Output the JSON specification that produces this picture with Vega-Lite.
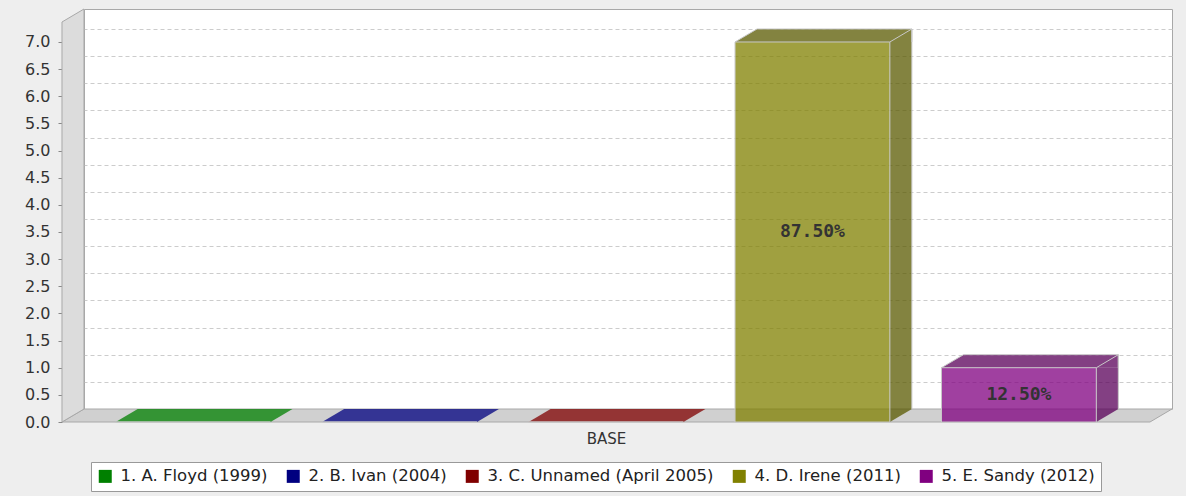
{
  "$schema": "https://vega.github.io/schema/vega-lite/v6.json",
  "width": 1088,
  "height": 400,
  "autosize": {"type": "none"},
  "padding": {"left": 84, "top": 9, "right": 14, "bottom": 87},
  "background": "#eeeeee",
  "config": {
    "view": {"fill": "white", "stroke": "#a8a8a8", "strokeWidth": 1},
    "font": "DejaVu Sans"
  },
  "data": {
    "values": [
      {"category": "BASE", "series": "1. A. Floyd (1999)", "value": 0, "label": ""},
      {"category": "BASE", "series": "2. B. Ivan (2004)", "value": 0, "label": ""},
      {"category": "BASE", "series": "3. C. Unnamed (April 2005)", "value": 0, "label": ""},
      {"category": "BASE", "series": "4. D. Irene (2011)", "value": 7, "label": "87.50%"},
      {"category": "BASE", "series": "5. E. Sandy (2012)", "value": 1, "label": "12.50%"}
    ]
  },
  "encoding": {
    "x": {
      "field": "series",
      "type": "nominal",
      "sort": null,
      "scale": {"paddingInner": 0.25, "paddingOuter": 0.26},
      "axis": {
        "title": "BASE",
        "labels": false,
        "ticks": false,
        "domain": false,
        "offset": 13,
        "titleX": 522,
        "titleY": 16,
        "titleBaseline": "middle",
        "titleAlign": "center",
        "titleFont": "DejaVu Sans",
        "titleFontSize": 15,
        "titleFontWeight": "normal",
        "titleColor": "#333333"
      }
    },
    "y": {
      "field": "value",
      "type": "quantitative",
      "scale": {"domain": [0, 7.368], "nice": false, "zero": true},
      "axis": null
    }
  },
  "layer": [
    {
      "transform": [{"filter": "datum.series == '1. A. Floyd (1999)'"}],
      "mark": {"type": "point", "shape": "M -153.1 13 L -131.1 0 L 956.9 0 L 934.9 13 Z", "size": 4, "filled": true, "fill": "#d0d0d0", "stroke": "#a8a8a8", "strokeWidth": 1, "opacity": 1},
      "encoding": {"y": {"datum": 0, "type": "quantitative", "axis": null}}
    },
    {
      "transform": [{"filter": "datum.series == '1. A. Floyd (1999)'"}],
      "mark": {"type": "point", "shape": "M -153.1 -387 L -131.1 -400 L -131.1 0 L -153.1 13 Z", "size": 4, "filled": true, "fill": "#dcdcdc", "stroke": "#a8a8a8", "strokeWidth": 1, "opacity": 1},
      "encoding": {"y": {"datum": 0, "type": "quantitative", "axis": null}}
    },
    {
      "transform": [{"filter": "datum.value == 0"}],
      "mark": {"type": "point", "shape": "M -77.42 0 L 77.42 0 L 55.42 13 L -99.42 13 Z", "size": 4, "filled": true, "opacity": 1, "fillOpacity": 0.75, "strokeWidth": 0},
      "encoding": {
        "y": {"datum": 0, "type": "quantitative", "axis": null},
        "color": {
          "field": "series",
          "type": "nominal",
          "sort": null,
          "scale": {"range": ["#008000", "#000080", "#800000", "#808000", "#800080"]},
          "legend": {
            "orient": "none", "legendX": 7, "legendY": 453, "direction": "horizontal", "title": null,
            "symbolType": "square", "symbolSize": 169, "symbolStrokeWidth": 0, "symbolOpacity": 1,
            "labelFont": "DejaVu Sans", "labelFontSize": 16.5, "labelColor": "#222222", "labelLimit": 500,
            "padding": 6, "strokeColor": "#999999", "fillColor": "white",
            "columnPadding": 17, "labelOffset": 7
          }
        }
      }
    },
    {
      "transform": [{"filter": "datum.value > 0"}],
      "mark": {"type": "rule", "strokeWidth": 22, "strokeCap": "butt", "xOffset": 66.42, "yOffset": 13, "opacity": 1, "strokeOpacity": 0.75},
      "encoding": {
        "y": {
          "field": "value",
          "type": "quantitative",
          "axis": {
            "orient": "right",
            "values": [0, 0.5, 1, 1.5, 2, 2.5, 3, 3.5, 4, 4.5, 5, 5.5, 6, 6.5, 7],
            "grid": true, "gridDash": [4, 3], "gridColor": "#cccccc", "gridWidth": 1,
            "labels": false, "ticks": false, "domain": false, "title": null
          }
        },
        "y2": {"datum": 0},
        "stroke": {
          "field": "series",
          "type": "nominal",
          "sort": null,
          "scale": {"domain": ["1. A. Floyd (1999)", "2. B. Ivan (2004)", "3. C. Unnamed (April 2005)", "4. D. Irene (2011)", "5. E. Sandy (2012)"], "range": ["#005900", "#000059", "#590000", "#595900", "#590059"]},
          "legend": null
        }
      }
    },
    {
      "transform": [{"filter": "datum.value > 0"}],
      "mark": {"type": "point", "shape": "M 55.42 0 L 77.42 0 L 55.42 13 Z", "size": 4, "filled": true, "opacity": 1, "fillOpacity": 0.75, "strokeWidth": 0},
      "encoding": {
        "y": {"datum": 0, "type": "quantitative", "axis": null},
        "fill": {
          "field": "series",
          "type": "nominal",
          "sort": null,
          "scale": {"domain": ["1. A. Floyd (1999)", "2. B. Ivan (2004)", "3. C. Unnamed (April 2005)", "4. D. Irene (2011)", "5. E. Sandy (2012)"], "range": ["#005900", "#000059", "#590000", "#595900", "#590059"]},
          "legend": null
        }
      }
    },
    {
      "transform": [{"filter": "datum.value > 0"}],
      "mark": {"type": "point", "shape": "M -77.42 0 L 77.42 0 L 77.42 13 L -99.42 13 Z", "size": 4, "filled": true, "opacity": 1, "fillOpacity": 0.75, "strokeWidth": 0},
      "encoding": {
        "fill": {
          "field": "series",
          "type": "nominal",
          "sort": null,
          "scale": {"domain": ["1. A. Floyd (1999)", "2. B. Ivan (2004)", "3. C. Unnamed (April 2005)", "4. D. Irene (2011)", "5. E. Sandy (2012)"], "range": ["#005900", "#000059", "#590000", "#595900", "#590059"]},
          "legend": null
        }
      }
    },
    {
      "transform": [{"filter": "datum.value > 0"}],
      "mark": {"type": "point", "shape": "M -99.42 13 L -77.42 0 L 77.42 0 L 55.42 13 M 77.42 0 L 77.42 13", "size": 4, "filled": false, "opacity": 1, "stroke": "#c8c8c8", "strokeWidth": 1}
    },
    {
      "transform": [{"filter": "datum.value > 0"}],
      "mark": {"type": "rule", "xOffset": 77.42, "stroke": "#c8c8c8", "strokeWidth": 1},
      "encoding": {"y2": {"datum": 0}}
    },
    {
      "mark": {"type": "bar", "fillOpacity": 0.75, "stroke": "#c8c8c8", "strokeWidth": 1, "xOffset": -22, "x2Offset": -22, "yOffset": 13, "y2Offset": 13},
      "encoding": {
        "y": {
          "field": "value",
          "type": "quantitative",
          "axis": {
            "orient": "left",
            "values": [0, 0.5, 1, 1.5, 2, 2.5, 3, 3.5, 4, 4.5, 5, 5.5, 6, 6.5, 7],
            "format": ".1f",
            "offset": 22, "tickOffset": 13, "tickSize": 4, "tickColor": "#888888",
            "domain": false, "grid": false, "title": null,
            "labelFont": "DejaVu Sans", "labelFontSize": 16, "labelColor": "#333333", "labelPadding": 8
          }
        },
        "color": {
          "field": "series",
          "type": "nominal",
          "sort": null,
          "scale": {"range": ["#008000", "#000080", "#800000", "#808000", "#800080"]},
          "legend": {
            "orient": "none", "legendX": 7, "legendY": 453, "direction": "horizontal", "title": null,
            "symbolType": "square", "symbolSize": 169, "symbolStrokeWidth": 0, "symbolOpacity": 1,
            "labelFont": "DejaVu Sans", "labelFontSize": 16.5, "labelColor": "#222222", "labelLimit": 500,
            "padding": 6, "strokeColor": "#999999", "fillColor": "white",
            "columnPadding": 17, "labelOffset": 7
          }
        }
      }
    },
    {
      "transform": [{"calculate": "datum.value / 2", "as": "mid"}],
      "mark": {"type": "text", "font": "DejaVu Sans Mono", "fontSize": 18, "fontWeight": "bold", "color": "#333333", "baseline": "middle", "align": "center", "xOffset": -22, "yOffset": 13},
      "encoding": {
        "y": {"field": "mid", "type": "quantitative", "axis": null},
        "text": {"field": "label"}
      }
    }
  ],
  "resolve": {"axis": {"y": "independent"}}
}
